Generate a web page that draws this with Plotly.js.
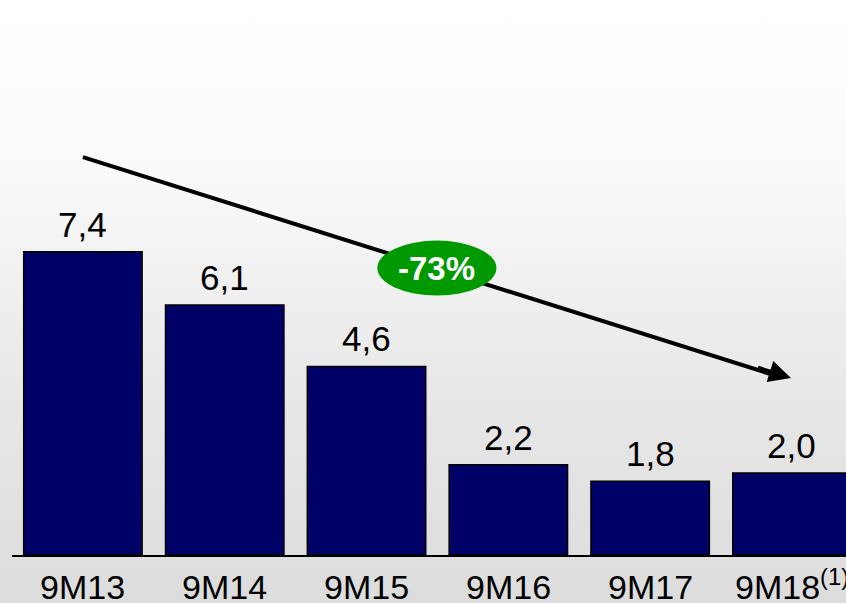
<!DOCTYPE html>
<html><head><meta charset="utf-8">
<script src="https://cdn.plot.ly/plotly-3.0.1.min.js"></script>
<style>
html,body{margin:0;padding:0;}
#chart{width:846px;height:603px;background:linear-gradient(to bottom,#ffffff 0%,#fbfbfb 25%,#f1f1f1 45%,#e6e6e6 70%,#dcdcdc 100%);}
</style></head><body>
<div id="chart"></div>
<script>
const categories = ["9M13","9M14","9M15","9M16","9M17","9M18"];
const tickLabels = ["9M13","9M14","9M15","9M16","9M17","9M18<sup>(1)</sup>"];
const values = [7.4, 6.1, 4.6, 2.2, 1.8, 2.0];
const changeLabel = "-73%";

const FONT = "Liberation Sans, Arial";
const xIdx = categories.map((c,i)=>i);

const trace = {
  type: "bar",
  x: xIdx,
  y: values,
  width: 0.835,
  marker: {color: "#000066", line: {color: "#000", width: 1.5}},
  hoverinfo: "none"
};

const valueAnnotations = values.map((v,i)=>({
  xref: "x", yref: "y", x: i, y: v,
  text: v.toFixed(1).replace(".", ","),
  showarrow: false, yanchor: "bottom", yshift: 6,
  font: {family: FONT, size: 35, color: "#000"}
}));

const tickAnnotations = tickLabels.map((t,i)=>({
  xref: "x", yref: "paper", x: i, y: 0,
  text: t, showarrow: false, yanchor: "bottom", yshift: -53,
  font: {family: FONT, size: 34, color: "#000"}
}));

const layout = {
  width: 846, height: 603,
  margin: {l: 12, r: 0, t: 0, b: 48},
  paper_bgcolor: "rgba(0,0,0,0)",
  plot_bgcolor: "rgba(0,0,0,0)",
  showlegend: false,
  xaxis: {
    range: [-0.5, 5.381],
    showticklabels: false,
    showgrid: false, zeroline: false,
    showline: true, linecolor: "#000", linewidth: 2,
    ticks: ""
  },
  yaxis: {
    range: [0, 13.54],
    visible: false, showgrid: false, zeroline: false
  },
  shapes: [
    {
      type: "line", xref: "x", yref: "y",
      x0: 0, y0: 9.707, x1: 4.9, y1: 4.36,
      line: {color: "#000", width: 4}, layer: "above"
    },
    {
      type: "circle", xref: "x", yref: "y",
      x0: 2.076, x1: 2.916, y0: 6.33, y1: 7.67,
      fillcolor: "#009900", line: {width: 0}, layer: "above"
    }
  ],
  annotations: [
    {
      xref: "x", yref: "y", axref: "x", ayref: "y",
      x: 4.993, y: 4.317, ax: 4.75, ay: 4.58,
      text: "", showarrow: true, arrowhead: 2, arrowsize: 1.1, arrowwidth: 4, arrowcolor: "#000"
    },
    {
      xref: "x", yref: "y", x: 2.496, y: 7.0,
      text: "<b>" + changeLabel + "</b>", showarrow: false,
      font: {family: FONT, size: 33, color: "#fff"}
    }
  ].concat(valueAnnotations, tickAnnotations)
};

Plotly.newPlot("chart", [trace], layout, {staticPlot: true, displayModeBar: false});
</script>
</body></html>
